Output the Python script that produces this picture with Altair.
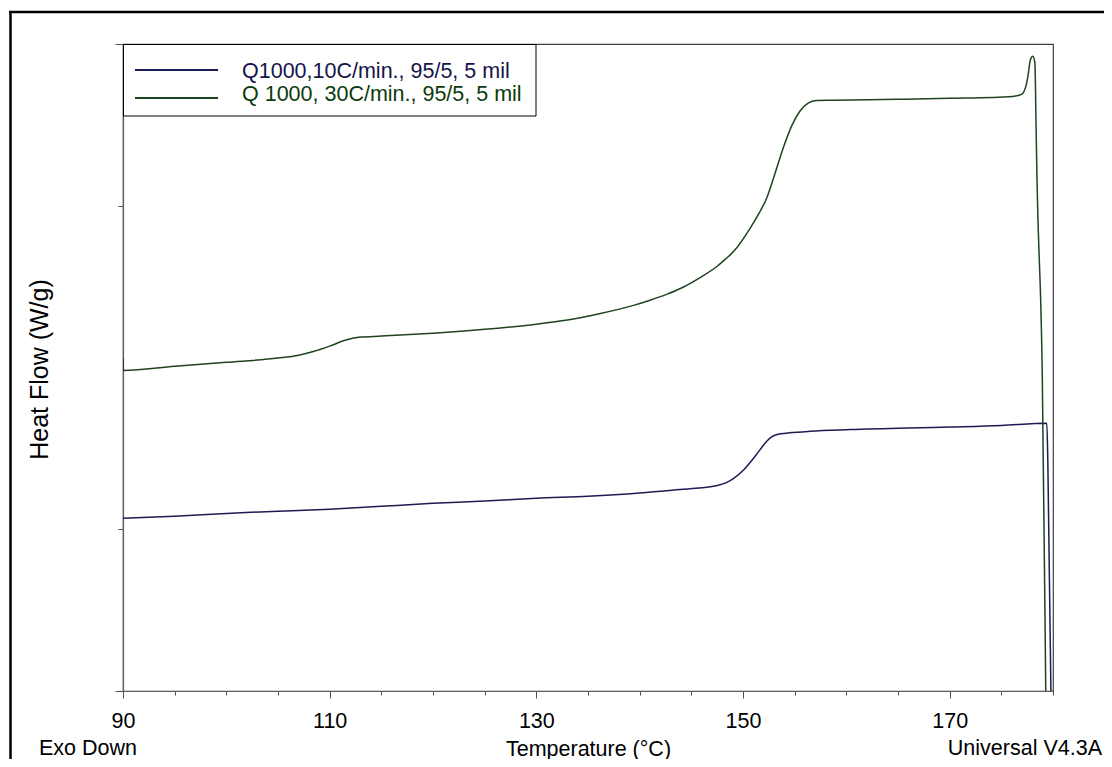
import altair as alt
import pandas as pd

series_names = ["Q1000,10C/min., 95/5, 5 mil", "Q 1000, 30C/min., 95/5, 5 mil"]
series_colors = ["#1c1c54", "#1f421f"]
text_colors = ["#14144a", "#0c3a0c"]

blue_temp = [90, 95, 100, 105, 110, 115, 120, 125, 130, 135, 140, 143.9, 146, 147.5, 148.4,
             149.1, 150.1, 151.3, 152.3, 152.8, 153.3, 154.5, 156.5, 160.4, 170, 175, 179.4,
             179.5, 179.8, 179.85]
blue_flow = [0.034, 0.040, 0.049, 0.056, 0.062, 0.071, 0.080, 0.087, 0.096, 0.102, 0.112,
             0.123, 0.128, 0.135, 0.144, 0.157, 0.185, 0.231, 0.272, 0.286, 0.293, 0.298,
             0.303, 0.308, 0.316, 0.321, 0.328, 0.210, -0.501, -0.70]

green_temp = [90, 90.05, 95, 100, 105, 107, 108.5, 110, 111.5, 113, 115, 120, 125, 130, 133,
              136.2, 139.4, 141, 142.6, 144.2, 145.8, 147.5, 148.3, 149.1, 150.7, 151.5, 152.3,
              153.1, 153.9, 154.7, 155.5, 156.3, 157.1, 158.7, 165, 170, 176.1, 177.0, 177.2,
              177.4, 177.6, 177.8, 178.05, 178.25, 178.35, 178.45, 178.97, 179.3, 179.35]
green_flow = [0.529, 0.491, 0.504, 0.516, 0.529, 0.538, 0.550, 0.566, 0.584, 0.594, 0.597,
              0.606, 0.618, 0.634, 0.647, 0.667, 0.692, 0.708, 0.726, 0.748, 0.777, 0.813,
              0.835, 0.859, 0.931, 0.974, 1.024, 1.100, 1.179, 1.246, 1.292, 1.317, 1.325,
              1.326, 1.329, 1.332, 1.338, 1.345, 1.354, 1.372, 1.406, 1.450, 1.462, 1.441,
              1.270, 1.085, 0.457, -0.501, -0.655]

x_ticks = list(range(90, 181, 5))
y_ticks = [-0.5, 0, 1, 1.5]

FONT = "Liberation Sans"
FS = 21.5

rows = []
for name, ts, vs in [(series_names[0], blue_temp, blue_flow), (series_names[1], green_temp, green_flow)]:
    for i, (t, v) in enumerate(zip(ts, vs)):
        rows.append({"T": t, "HF": v, "series": name, "idx": i})
df = pd.DataFrame(rows)

one = pd.DataFrame({"a": [0]})

x_axis = alt.Axis(
    values=x_ticks,
    labelExpr="datum.value % 20 == 10 ? datum.label : ''",
    tickSize={"condition": {"test": "datum.value % 20 == 10", "value": 7}, "value": 4},
    tickColor="#505050", domainColor="#606060", tickWidth=1, domainWidth=1.2,
    labelFont=FONT, labelFontSize=FS, labelColor="black", labelBaseline="alphabetic",
    labelPadding=29, labelFlush=False, labelOverlap=False,
    title="Temperature (°C)", titleFont=FONT, titleFontSize=FS, titleFontWeight="normal",
    titleColor="black", titleX=465, titleY=64, titleBaseline="alphabetic", titleAlign="center",
    grid=False,
)
y_axis = alt.Axis(
    values=y_ticks, labels=False,
    tickSize={"condition": {"test": "datum.value == -0.5 || datum.value == 1.5", "value": 8}, "value": 5},
    tickColor="#505050", domainColor="#606060", tickWidth=1, domainWidth=1.2,
    title="Heat Flow (W/g)", titleFont=FONT, titleFontSize=25, titleFontWeight="normal",
    titleColor="black", titleX=-84, titleY=325, titleBaseline="middle", titleAlign="center",
    grid=False,
)

lines = alt.Chart(df).mark_line(clip=True, strokeWidth=1.5, interpolate="monotone").encode(
    x=alt.X("T:Q", scale=alt.Scale(domain=[90, 180], nice=False, zero=False), axis=x_axis),
    y=alt.Y("HF:Q", scale=alt.Scale(domain=[-0.5, 1.5], nice=False, zero=False), axis=y_axis),
    color=alt.Color("series:N", scale=alt.Scale(domain=series_names, range=series_colors), legend=None),
    order="idx:Q",
)

frame_left = alt.Chart(one).mark_rule(color="black", strokeWidth=2.5).encode(
    x=alt.value(-112.5), y=alt.value(-32), y2=alt.value(760))
frame_top = alt.Chart(one).mark_rule(color="black", strokeWidth=2.5).encode(
    x=alt.value(-114), x2=alt.value(1000), y=alt.value(-32))

legend_box = alt.Chart(one).mark_rect(fill="white", stroke="black", strokeWidth=1).encode(
    x=alt.value(0.5), x2=alt.value(413), y=alt.value(0.5), y2=alt.value(72))

layers = [frame_left, frame_top, lines, legend_box]
line_y = [26, 54]
text_y = [33.5, 56.5]
for i in range(2):
    layers.append(alt.Chart(one).mark_rule(color=series_colors[i], strokeWidth=1.8).encode(
        x=alt.value(12), x2=alt.value(95), y=alt.value(line_y[i])))
    layers.append(alt.Chart(one).mark_text(
        text=series_names[i], font=FONT, fontSize=FS, color=text_colors[i],
        align="left", baseline="alphabetic").encode(x=alt.value(119), y=alt.value(text_y[i])))

layers.append(alt.Chart(one).mark_text(
    text="Exo Down", font=FONT, fontSize=FS, color="black", align="left", baseline="alphabetic"
).encode(x=alt.value(-84), y=alt.value(711)))
layers.append(alt.Chart(one).mark_text(
    text="Universal V4.3A", font=FONT, fontSize=FS, color="black", align="right", baseline="alphabetic"
).encode(x=alt.value(979), y=alt.value(711)))

chart = alt.layer(*layers).properties(
    width=930, height=647,
    autosize=alt.AutoSizeParams(type="none"),
    padding={"left": 115, "top": 36, "right": 51, "bottom": 68},
    background="white",
).configure_view(stroke="#404040", strokeWidth=1.2)

chart.save("out.html", embed_options={"renderer": "svg", "actions": False})
